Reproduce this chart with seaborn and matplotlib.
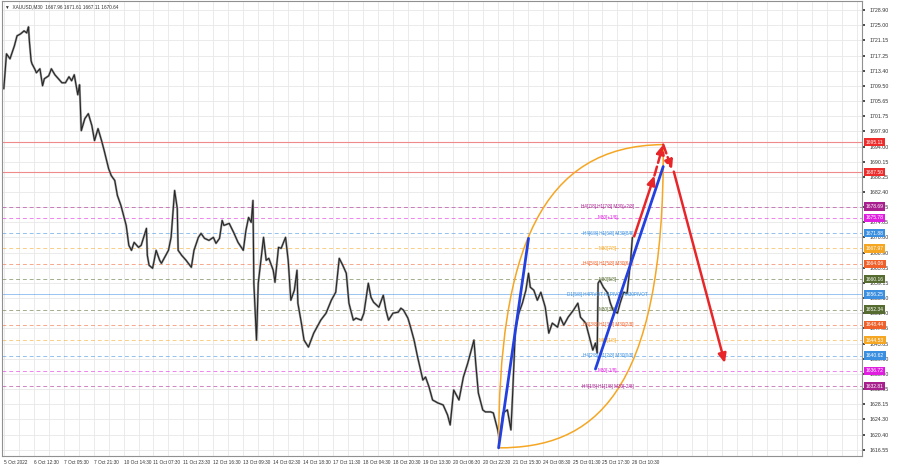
import matplotlib
matplotlib.use("Agg")
import matplotlib.pyplot as plt
import seaborn as sns
import pandas as pd
from matplotlib.path import Path
from matplotlib.patches import PathPatch

# === DATA (M30 bar index, close price)
bars = [0, 3, 7, 12, 15, 19, 23, 26, 28, 29, 31, 32, 35, 37, 41, 44, 46, 51, 54, 58,
        62, 66, 70, 74, 77, 80, 84, 86, 88, 92, 96, 100, 103, 107, 111, 114, 119, 122, 126, 129,
        133, 136, 139, 142, 145, 148, 153, 156, 162, 163, 165, 169, 173, 177, 179, 187, 190, 194, 197, 198,
        202, 207, 213, 216, 221, 224, 228, 233, 238, 241, 245, 248, 250, 256, 261, 266, 272, 275, 278, 281,
        283, 284, 287, 289, 295, 298, 301, 306, 308, 312, 315, 320, 323, 326, 330, 333, 334, 338, 341, 346,
        352, 360, 366, 372, 377, 381, 385, 389, 392, 397, 400, 406, 409, 414, 417, 420, 426, 431, 434, 437,
        442, 448, 451, 454, 459, 462, 466, 470, 476, 479, 483, 487, 493, 499, 504, 507, 511, 517, 522, 527,
        530, 534, 536, 539, 544, 547, 553, 556, 561, 563, 567, 572, 576, 578, 581, 585, 589, 593, 596, 598,
        602, 606, 610, 615, 619, 623, 629, 632, 636, 641, 647, 652, 655, 661, 664, 669, 672, 674, 675, 677,
        681, 686, 689, 692, 697, 700, 704, 708, 712, 714]
closes = [1708.77, 1717.69, 1716.41, 1719.73, 1722.28, 1722.78, 1723.55, 1723.04, 1724.57, 1721.00,
          1715.90, 1715.14, 1713.87, 1712.85, 1713.87, 1709.54, 1711.32, 1712.08, 1713.87, 1712.34,
          1711.32, 1710.30, 1710.30, 1711.83, 1710.81, 1712.34, 1707.24, 1709.79, 1698.07, 1701.13,
          1702.40, 1699.34, 1695.52, 1698.58, 1695.52, 1692.97, 1688.39, 1686.60, 1685.33, 1681.51,
          1678.96, 1676.41, 1673.86, 1668.77, 1667.49, 1669.53, 1668.26, 1668.77, 1673.10, 1666.22,
          1663.67, 1662.91, 1667.49, 1664.95, 1664.18, 1667.49, 1670.81, 1682.78, 1678.19, 1667.49,
          1666.22, 1664.95, 1663.16, 1667.49, 1670.81, 1671.82, 1670.55, 1670.04, 1670.81, 1669.28,
          1670.55, 1675.14, 1673.86, 1674.37, 1672.08, 1669.53, 1667.49, 1672.59, 1675.90, 1674.63,
          1680.23, 1659.08, 1644.56, 1659.08, 1670.81, 1664.95, 1665.45, 1662.40, 1659.34, 1668.26,
          1668.00, 1670.81, 1664.95, 1654.75, 1657.30, 1662.40, 1653.99, 1648.89, 1644.56, 1642.78,
          1646.34, 1649.66, 1651.44, 1654.75, 1656.79, 1665.45, 1663.67, 1661.63, 1653.99, 1649.66,
          1650.17, 1649.66, 1651.44, 1659.08, 1655.52, 1654.24, 1652.97, 1656.03, 1652.21, 1649.66,
          1651.44, 1651.70, 1652.71, 1652.21, 1650.17, 1647.87, 1644.56, 1640.23, 1634.37, 1635.13,
          1632.59, 1629.27, 1628.51, 1628.00, 1625.45, 1622.90, 1631.82, 1629.27, 1635.13, 1638.70,
          1641.25, 1644.56, 1638.70, 1631.06, 1626.73, 1626.22, 1626.22, 1625.96, 1621.63, 1619.08,
          1625.96, 1626.73, 1621.63, 1631.06, 1647.11, 1651.44, 1653.99, 1657.30, 1661.63, 1658.07,
          1657.30, 1654.75, 1656.79, 1652.97, 1646.34, 1648.89, 1647.87, 1650.42, 1648.38, 1650.42,
          1652.21, 1653.99, 1650.42, 1648.89, 1646.34, 1642.01, 1643.80, 1641.25, 1659.08, 1659.85,
          1658.07, 1656.54, 1653.99, 1652.21, 1651.44, 1653.99, 1656.79, 1656.54, 1664.95, 1670.81]

xtick_labels = ["5 Oct 2022", "6 Oct 12:30", "7 Oct 05:30", "7 Oct 21:30", "10 Oct 14:30",
                "11 Oct 07:30", "11 Oct 23:30", "12 Oct 16:30", "13 Oct 09:30", "14 Oct 02:30",
                "14 Oct 18:30", "17 Oct 11:30", "18 Oct 04:30", "18 Oct 20:30", "19 Oct 13:30",
                "20 Oct 06:30", "20 Oct 22:30", "21 Oct 15:30", "24 Oct 08:30", "25 Oct 01:30",
                "25 Oct 17:30", "26 Oct 10:30"]
yticks = [1616.55, 1620.40, 1624.30, 1628.15, 1632.05, 1635.90, 1639.80, 1643.65, 1647.55, 1651.40,
          1655.30, 1659.15, 1663.05, 1666.90, 1670.80, 1674.65, 1678.55, 1682.40, 1686.25, 1690.15,
          1694.00, 1697.90, 1701.75, 1705.65, 1709.50, 1713.40, 1717.25, 1721.15, 1725.00, 1728.90]

# Murrey levels
level_prices = [1678.69, 1675.78, 1671.88, 1667.97, 1664.06, 1660.16, 1656.25,
                1652.34, 1648.44, 1644.53, 1640.62, 1636.72, 1632.81]
level_names = ["H4[7/8] H1[7/8] M30[+2/8]", "M30[+1/8]", "H4[6/8] H1[6/8] M30[8/8]", "M30[7/8]",
               "H4[5/8] H1[5/8] M30[6/8]", "M30[5/8]", "D1[5/8] H4PIVOT H1PIVOT M30PIVOT",
               "M30[3/8]", "H4[3/8] H1[3/8] M30[2/8]", "M30[1/8]", "H4[2/8] H1[2/8] M30[0/8]",
               "M30[-1/8]", "H4[1/8] H1[1/8] M30[-2/8]"]
level_colors = ["#a8208e", "#e01ee0", "#3a8fe0", "#f5a623", "#f0602a", "#556b2f", "#3a8fe0",
                "#556b2f", "#f0602a", "#f5a623", "#3a8fe0", "#e01ee0", "#a8208e"]
red_levels = [1695.11, 1687.50]

# projections (bar, price)
blue_1 = [(562, 1617.04), (596, 1670.55)]
blue_2 = [(672, 1637.17), (749, 1688.90)]
red_up = [(716, 1671.06), (739, 1686.60)]
red_dash_up = [(739, 1686.60), (749, 1694.50)]
red_dash_dn = [(749, 1694.50), (759, 1688.13)]
red_down = [(761, 1687.60), (819, 1638.70)]
arc_upper = [(562, 1617.04), (562, 1667.49), (610, 1694.25), (749, 1694.50)]
arc_lower = [(562, 1617.04), (666, 1617.04), (751, 1629.27), (749, 1694.50)]

# === PLOT
sns.set_theme(style="white")
plt.rcParams['font.family'] = ['Liberation Sans', 'DejaVu Sans']

fig = plt.figure(figsize=(9, 4.68), dpi=100)
ax = fig.add_axes([0.002, 0.026, 0.956, 0.972])

df = pd.DataFrame({"bar": bars, "close": closes})
sns.lineplot(data=df, x="bar", y="close", ax=ax, color="#a0a0a0", lw=1.6, zorder=3)
sns.lineplot(data=df, x="bar", y="close", ax=ax, color="#262626", lw=0.8, zorder=4)

ax.set_xlim(-2.3, 975)
ax.set_ylim(1615.0, 1731.2)

# grid
for gx in range(0, 975, 17):
    ax.axvline(gx, color="#e8e8e8", lw=0.6, zorder=0)
for gy in yticks:
    ax.axhline(gy, color="#e8e8e8", lw=0.6, zorder=0)

for p in red_levels:
    ax.axhline(p, color="#f08a8a", lw=0.8, zorder=1)
    ax.text(1.004, p, f"{p:.2f}", transform=ax.get_yaxis_transform(), fontsize=3.6,
            color="white", va="center", ha="left", zorder=10, clip_on=False,
            bbox=dict(boxstyle="square,pad=0.35", fc="#ee2c2c", ec="none"))

for p, name, c in zip(level_prices, level_names, level_colors):
    if p == 1656.25:
        ax.axhline(p, color=c, lw=0.6, alpha=0.6, zorder=1)
    else:
        ax.axhline(p, color=c, lw=0.7, ls=(0, (4, 3)), alpha=0.55, zorder=1)
    ax.text(686, p, name, fontsize=3.3, color=c, ha="center", va="center", zorder=6)
    ax.text(1.004, p, f"{p:.2f}", transform=ax.get_yaxis_transform(), fontsize=3.6,
            color="white", va="center", ha="left", zorder=10, clip_on=False,
            bbox=dict(boxstyle="square,pad=0.35", fc=c, ec="none"))

# arcs
for pts in (arc_upper, arc_lower):
    path = Path(pts, [Path.MOVETO, Path.CURVE4, Path.CURVE4, Path.CURVE4])
    ax.add_patch(PathPatch(path, fc="none", ec="#f5a623", lw=1.1, zorder=5))

# blue lines
for seg in (blue_1, blue_2):
    ax.plot([seg[0][0], seg[1][0]], [seg[0][1], seg[1][1]], color="#2340e0", lw=2, zorder=7)

# red arrows
for seg, ls in ((red_up, "-"), (red_dash_up, "--"), (red_dash_dn, "--"), (red_down, "-")):
    ax.annotate("", xy=seg[1], xytext=seg[0], zorder=8,
                arrowprops=dict(arrowstyle="-|>,head_length=0.45,head_width=0.2",
                                color="#e8262a", lw=1.8, ls=ls, shrinkA=0, shrinkB=0))

# axes
ax.yaxis.tick_right()
ax.set_yticks(yticks)
ax.set_yticklabels([f"{v:.2f}" for v in yticks])
ax.set_xticks(range(0, 34 * len(xtick_labels), 34))
ax.set_xticklabels(xtick_labels, ha="left")
ax.tick_params(axis="y", labelsize=3.8, length=2, pad=3, colors="#333333")
ax.tick_params(axis="x", labelsize=3.4, length=2, pad=0.8, colors="#333333")
ax.set_xlabel("")
ax.set_ylabel("")
for s in ax.spines.values():
    s.set_color("#909090")
    s.set_linewidth(0.8)

ax.text(0.004, 0.993, "\u25bc  XAUUSD,M30  1667.96 1671.61 1667.11 1670.64", transform=ax.transAxes,
        fontsize=3.4, color="#333333", va="top", ha="left")

fig.savefig("out.png", dpi=100)
